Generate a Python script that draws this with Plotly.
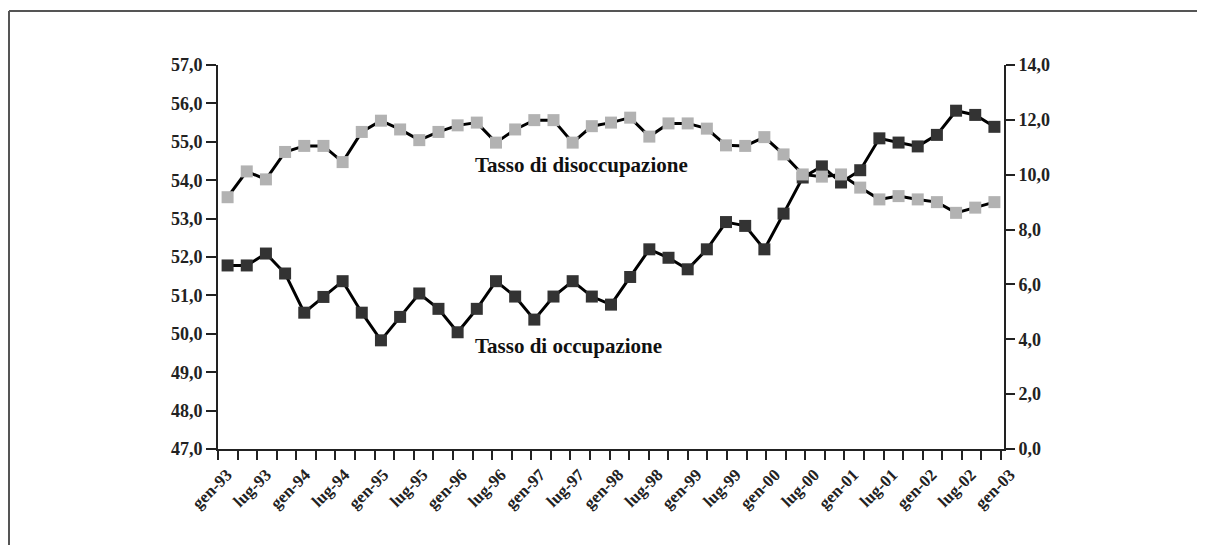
import plotly.graph_objects as go

# ---- data ----
quarters = []
for yy in ["93", "94", "95", "96", "97", "98", "99", "00", "01", "02"]:
    for m in ["gen", "apr", "lug", "ott"]:
        quarters.append(f"{m}-{yy}")
quarters.append("gen-03")

tick_labels = [q if q.startswith(("gen", "lug")) else "" for q in quarters]

occupazione = [51.78, 51.78, 52.09, 51.57, 50.55, 50.96, 51.37, 50.55, 49.83, 50.44,
               51.05, 50.65, 50.04, 50.65, 51.37, 50.97, 50.37, 50.97, 51.37, 50.97,
               50.76, 51.48, 52.20, 51.98, 51.68, 52.20, 52.91, 52.81, 52.20, 53.13,
               54.07, 54.36, 53.94, 54.26, 55.09, 54.98, 54.88, 55.18, 55.81, 55.70,
               55.39]
disoccupazione = [9.18, 10.12, 9.83, 10.83, 11.05, 11.05, 10.46, 11.56, 11.97, 11.65,
                  11.26, 11.56, 11.80, 11.90, 11.17, 11.65, 11.99, 11.99, 11.17, 11.77,
                  11.90, 12.08, 11.39, 11.87, 11.87, 11.68, 11.07, 11.05, 11.37, 10.74,
                  10.01, 9.93, 10.01, 9.53, 9.10, 9.22, 9.10, 9.00, 8.61, 8.80,
                  9.00]

idx = list(range(len(quarters)))

FONT = "Liberation Serif, Times New Roman, serif"
DARK = "#333333"
GRAY = "#b2b2b2"
AXC = "#222222"

fig = go.Figure()
fig.add_trace(go.Scatter(
    x=idx, y=occupazione, mode="lines+markers", name="Tasso di occupazione",
    line=dict(color="black", width=3),
    marker=dict(symbol="square", size=12, color=DARK),
    xaxis="x", yaxis="y", text=quarters, hoverinfo="text+y"))
fig.add_trace(go.Scatter(
    x=idx, y=disoccupazione, mode="lines+markers", name="Tasso di disoccupazione",
    line=dict(color="black", width=3),
    marker=dict(symbol="square", size=12, color=GRAY),
    xaxis="x", yaxis="y2", text=quarters, hoverinfo="text+y"))
# empty carrier so that the category tick axis (x2) is drawn
fig.add_trace(go.Scatter(x=idx, y=[None] * len(idx), mode="lines",
                         xaxis="x2", yaxis="y", hoverinfo="skip", showlegend=False))

# page is offset by the 8px body margin: work in figure coordinates
OFF = 8
W, H = 1205 - OFF, 545 - OFF
L, R, T, B = 218 - OFF, 201, 65 - OFF, 96
pw, ph = W - L - R, H - T - B

def px(xp):
    return (xp - OFF - L) / pw

def py(yp):
    return (H - B - (yp - OFF)) / ph

fig.update_layout(
    width=W, height=H,
    margin=dict(l=L, r=R, t=T, b=B, pad=0),
    paper_bgcolor="white", plot_bgcolor="white",
    separators=",.",
    showlegend=False,
    font=dict(family=FONT, color=AXC),
    xaxis=dict(range=[-0.5, len(quarters) - 0.5], visible=False, showgrid=False,
               zeroline=False),
    xaxis2=dict(overlaying="x", anchor="y", side="bottom",
                range=[0, len(quarters) - 0.85],
                tickmode="array", tickvals=idx, ticktext=tick_labels,
                tickangle=-45, ticks="outside", ticklen=9, tickwidth=2,
                tickcolor=AXC, ticklabelshift=9, ticklabelstandoff=-2,
                showline=True, linecolor=AXC, linewidth=2,
                showgrid=False, zeroline=False,
                tickfont=dict(family=FONT, size=17, weight="bold", color=AXC)),
    yaxis=dict(range=[47, 57], dtick=1, tickformat=".1f",
               ticks="outside", ticklen=10, tickwidth=2, tickcolor=AXC,
               showline=True, linecolor=AXC, linewidth=2,
               showgrid=False, zeroline=False,
               tickfont=dict(family=FONT, size=18, weight="bold", color=AXC)),
    yaxis2=dict(range=[0, 14], dtick=2, tickformat=".1f", overlaying="y",
                side="right", anchor="x",
                ticks="outside", ticklen=9, tickwidth=2, tickcolor=AXC,
                showline=True, linecolor=AXC, linewidth=2,
                showgrid=False, zeroline=False,
                tickfont=dict(family=FONT, size=18, weight="bold", color=AXC)),
    annotations=[
        dict(text="Tasso di disoccupazione", x=12.82, y=54.39, xref="x", yref="y",
             xanchor="left", yanchor="middle", showarrow=False,
             font=dict(family=FONT, size=21, weight="bold", color="#111111")),
        dict(text="Tasso di occupazione", x=12.82, y=49.67, xref="x", yref="y",
             xanchor="left", yanchor="middle", showarrow=False,
             font=dict(family=FONT, size=21, weight="bold", color="#111111")),
    ],
    shapes=[
        dict(type="line", xref="paper", yref="paper", x0=px(9), x1=px(1205 + 5),
             y0=py(11), y1=py(11), line=dict(color="#555555", width=2)),
        dict(type="line", xref="paper", yref="paper", x0=px(9), x1=px(9),
             y0=py(11), y1=py(545 + 5), line=dict(color="#555555", width=2)),
    ],
)

fig.write_html("out.html")
